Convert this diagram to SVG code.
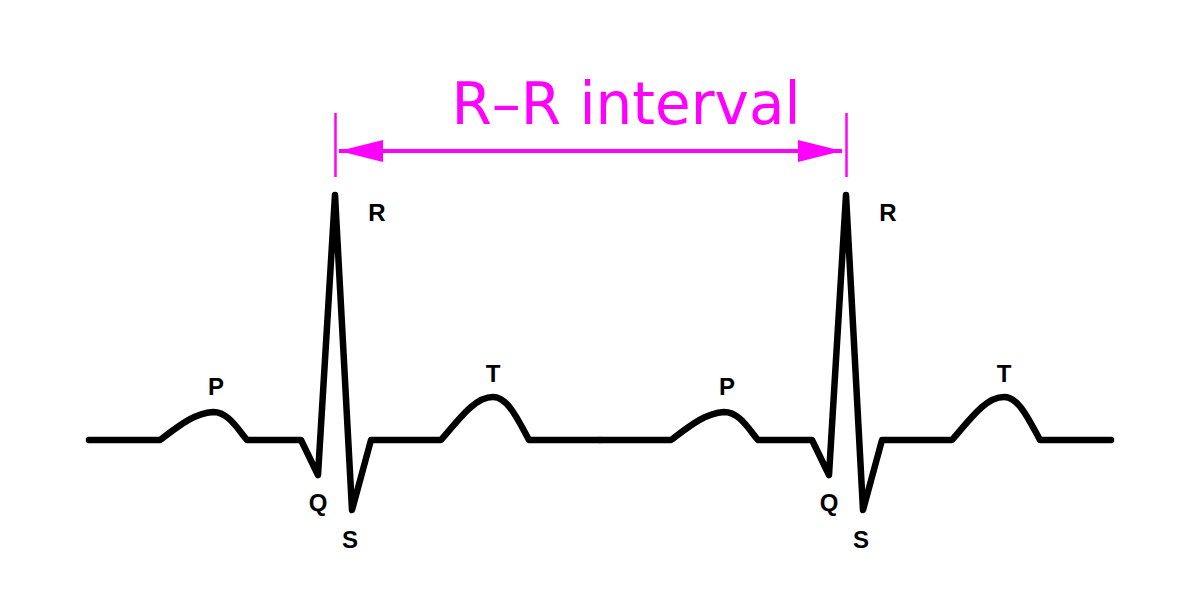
<svg xmlns="http://www.w3.org/2000/svg" width="1200" height="601" viewBox="0 0 1200 601">
<style>
.trace{fill:none;stroke:#000;stroke-width:6.5;stroke-linecap:round;stroke-linejoin:round}
.lbl{font-family:"Liberation Sans",Arial,sans-serif;font-weight:bold;font-size:24px;fill:#000;text-anchor:middle}
.mg{stroke:#ff00ff;fill:none}
.title{font-family:"DejaVu Sans",sans-serif;font-size:58px;fill:#ff00ff;text-anchor:middle}
</style>
<defs>
<marker id="ah" viewBox="0 0 44 22" refX="44" refY="11" markerWidth="44" markerHeight="22" markerUnits="userSpaceOnUse" orient="auto-start-reverse">
<path d="M0,0 L44,11 L0,22 Z" fill="#ff00ff"/>
</marker>
</defs>
<rect width="1200" height="601" fill="#fff"/>
<g id="trace1">
<path class="trace" d="M89,440 L160,440 C180,425 195,413 213,412 C228,412 237,428 247,440 L301,440 L318,475 L335,195 L352,510 L371,440 L441,440 C460,418 475,397 493,397 C508,397 518,420 529,440 L600,440"/>
</g>
<g id="trace2">
<path class="trace" d="M600,440 L671,440 C691,425 706,413 724,412 C739,412 748,428 758,440 L812,440 L829,475 L846,195 L863,510 L882,440 L952,440 C971,418 986,397 1004,397 C1019,397 1029,420 1040,440 L1111,440"/>
</g>
<g id="labels1">
<text class="lbl" x="216" y="395">P</text>
<text class="lbl" x="318" y="511">Q</text>
<text class="lbl" x="377" y="221">R</text>
<text class="lbl" x="350" y="548">S</text>
<text class="lbl" x="493" y="382">T</text>
</g>
<g id="labels2">
<text class="lbl" x="727" y="395">P</text>
<text class="lbl" x="829" y="511">Q</text>
<text class="lbl" x="888" y="221">R</text>
<text class="lbl" x="861" y="548">S</text>
<text class="lbl" x="1004" y="382">T</text>
</g>
<g id="rr-interval">
<line class="mg" x1="335.5" y1="113" x2="335.5" y2="177" stroke-width="2.5"/>
<line class="mg" x1="846.5" y1="113" x2="846.5" y2="177" stroke-width="2.5"/>
<line class="mg" x1="339" y1="151" x2="842" y2="151" stroke-width="4" marker-start="url(#ah)" marker-end="url(#ah)"/>
<text class="title" x="626" y="124">R–R interval</text>
</g>
</svg>
